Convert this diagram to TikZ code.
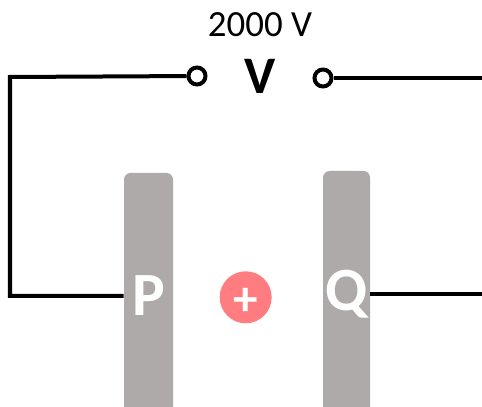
\documentclass[tikz,border=0pt]{standalone}
\usepackage{fontspec}
\setmainfont{Carlito}
\definecolor{plategray}{HTML}{AEAAAA}
\definecolor{chargered}{HTML}{FF7C80}
\tikzset{
  wire/.style={line width=0.08cm, black},
  terminal/.style={circle, draw=black, line width=0.08cm, fill=white,
    minimum size=0.34cm, inner sep=0pt},
  plate/.style={rectangle, rounded corners=0.13cm, fill=plategray, text=white,
    inner sep=0pt, font=\fontsize{35}{35}\selectfont\bfseries},
}
\begin{document}
\begin{tikzpicture}
\useasboundingbox (0, 0) rectangle (9.64, 8.14);
\clip (0, 0) rectangle (9.64, 8.14);

\node[plate, minimum width=0.98cm, minimum height=4.92cm] (plateP) at (2.97, 2.22) {P};
\node[plate, minimum width=0.94cm, minimum height=4.92cm] (plateQ) at (6.93, 2.26) {Q};

\node[circle, fill=chargered, minimum size=1.04cm, inner sep=0pt, text=white,
  font=\fontsize{28}{28}\selectfont\bfseries] (charge) at (4.914, 2.194)
  {\raisebox{-0.1cm}[\height][\depth]{+}};

\node[terminal] (termL) at (3.94, 6.62) {};
\node[terminal] (termR) at (6.46, 6.58) {};
\node[font=\fontsize{30}{30}\selectfont\bfseries] (meter) at (5.2, 6.62) {V};
\node[font=\fontsize{21}{21}\selectfont] (volts) at (5.2, 7.64) {2000 V};

\coordinate (cornerL) at (0.2, 6.6);
\coordinate (endR) at (9.64, 6.58);
\coordinate (endQ) at (9.64, 2.26);

\draw[wire] (termL) -- (cornerL) |- (plateP);
\draw[wire] (termR) -- (endR);
\draw[wire] (plateQ) -- (endQ);

\end{tikzpicture}
\end{document}
